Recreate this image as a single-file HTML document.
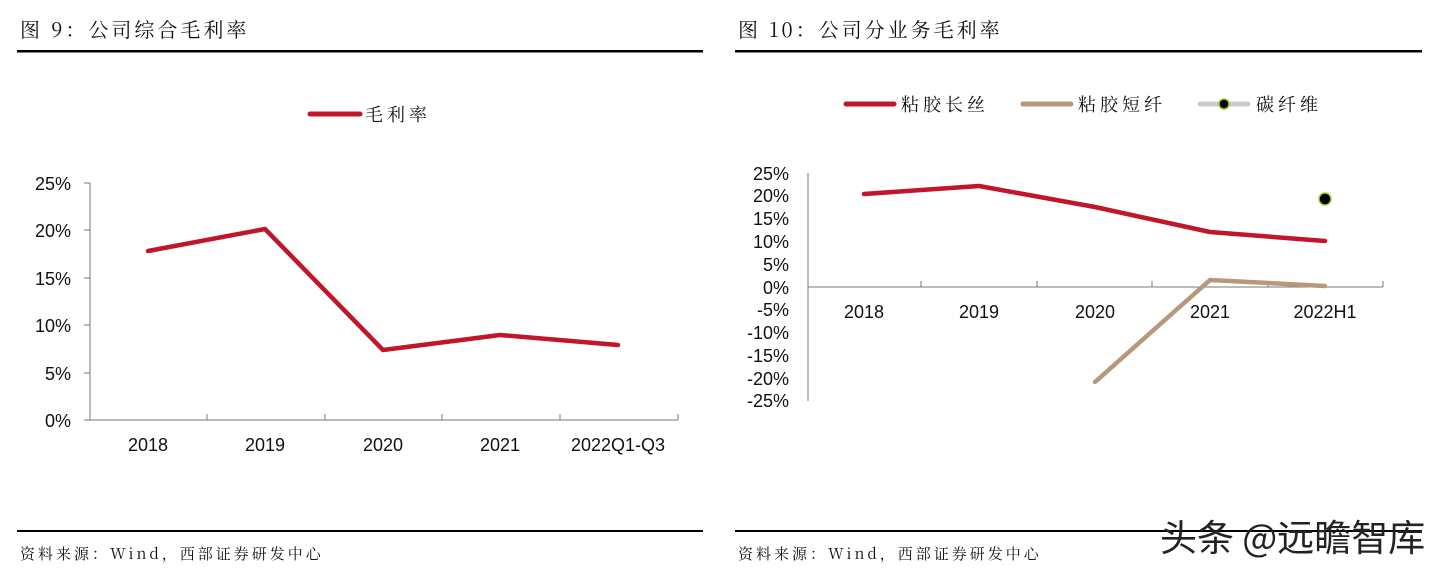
<!DOCTYPE html>
<html><head><meta charset="utf-8"><style>
html,body{margin:0;padding:0;background:#fff;}
.s{font-family:"Liberation Sans","Noto Sans CJK SC",sans-serif;}
.c{font-family:"Noto Serif CJK SC","Liberation Sans",serif;}
</style></head><body>
<svg width="1447" height="575" viewBox="0 0 1447 575" xmlns="http://www.w3.org/2000/svg" class="s">
<text class="c" x="20" y="37" font-size="20" fill="#111" letter-spacing="3">图 9：公司综合毛利率</text>
<text class="c" x="738" y="37" font-size="20" fill="#111" letter-spacing="3">图 10：公司分业务毛利率</text>
<rect x="17" y="50" width="686" height="2.5" fill="#000"/>
<rect x="735" y="50" width="687" height="2.5" fill="#000"/>
<rect x="17" y="530" width="686" height="2" fill="#000"/>
<rect x="735" y="530" width="687" height="2" fill="#000"/>
<text class="c" x="20" y="559" font-size="15" fill="#111" letter-spacing="3">资料来源：Wind，西部证券研发中心</text>
<text class="c" x="738" y="559" font-size="15" fill="#111" letter-spacing="3">资料来源：Wind，西部证券研发中心</text>
<text x="1160" y="551" font-size="37" fill="#222" style="font-family:'Noto Sans CJK SC',sans-serif">头条 @远瞻智库</text>

<line x1="310" y1="114" x2="360" y2="114" stroke="#C0152A" stroke-width="5" stroke-linecap="round"/>
<text class="c" x="365" y="121" font-size="18" fill="#111" letter-spacing="4">毛利率</text>
<g font-size="18" fill="#111" text-anchor="end">
<text x="71" y="190">25%</text><text x="71" y="237">20%</text><text x="71" y="285">15%</text>
<text x="71" y="332">10%</text><text x="71" y="380">5%</text><text x="71" y="427">0%</text>
</g>
<g stroke="#777" stroke-width="1">
<line x1="90" y1="183" x2="90" y2="420"/>
<line x1="90" y1="420" x2="678" y2="420"/>
<line x1="84" y1="183" x2="90" y2="183"/><line x1="84" y1="230" x2="90" y2="230"/><line x1="84" y1="278" x2="90" y2="278"/>
<line x1="84" y1="325" x2="90" y2="325"/><line x1="84" y1="373" x2="90" y2="373"/><line x1="84" y1="420" x2="90" y2="420"/>
<line x1="207" y1="414" x2="207" y2="420"/><line x1="325" y1="414" x2="325" y2="420"/><line x1="442" y1="414" x2="442" y2="420"/>
<line x1="560" y1="414" x2="560" y2="420"/><line x1="678" y1="414" x2="678" y2="420"/>
</g>
<g font-size="18" fill="#111" text-anchor="middle">
<text x="148" y="451">2018</text><text x="265" y="451">2019</text><text x="383" y="451">2020</text><text x="500" y="451">2021</text><text x="618" y="451">2022Q1-Q3</text>
</g>
<polyline points="148,251 265,229 383,350 500,335 618,345" fill="none" stroke="#C0152A" stroke-width="4.5" stroke-linejoin="round" stroke-linecap="round"/>

<line x1="846" y1="104" x2="894" y2="104" stroke="#C0152A" stroke-width="5" stroke-linecap="round"/>
<text class="c" x="901" y="111" font-size="18" fill="#111" letter-spacing="4">粘胶长丝</text>
<line x1="1023" y1="104" x2="1071" y2="104" stroke="#B8987A" stroke-width="5" stroke-linecap="round"/>
<text class="c" x="1078" y="111" font-size="18" fill="#111" letter-spacing="4">粘胶短纤</text>
<line x1="1200" y1="104" x2="1248" y2="104" stroke="#ccc" stroke-width="5" stroke-linecap="round"/>
<circle cx="1224" cy="104" r="5" fill="#000" stroke="#9c3" stroke-width="1.5"/>
<text class="c" x="1256" y="111" font-size="18" fill="#111" letter-spacing="4">碳纤维</text>

<g font-size="18" fill="#111" text-anchor="end">
<text x="789" y="180">25%</text><text x="789" y="202">20%</text><text x="789" y="225">15%</text>
<text x="789" y="248">10%</text><text x="789" y="271">5%</text><text x="789" y="294">0%</text>
<text x="789" y="316">-5%</text><text x="789" y="339">-10%</text><text x="789" y="362">-15%</text>
<text x="789" y="385">-20%</text><text x="789" y="407">-25%</text>
</g>
<g stroke="#777" stroke-width="1">
<line x1="808" y1="173" x2="808" y2="401"/>
<line x1="808" y1="287" x2="1383" y2="287"/>
<line x1="921" y1="281" x2="921" y2="287"/><line x1="1037" y1="281" x2="1037" y2="287"/><line x1="1152" y1="281" x2="1152" y2="287"/>
<line x1="1268" y1="281" x2="1268" y2="287"/><line x1="1383" y1="281" x2="1383" y2="287"/>
</g>
<g font-size="18" fill="#111" text-anchor="middle">
<text x="864" y="318">2018</text><text x="979" y="318">2019</text><text x="1095" y="318">2020</text><text x="1210" y="318">2021</text><text x="1325" y="318">2022H1</text>
</g>
<polyline points="864,194 979,186 1095,207 1210,232 1325,241" fill="none" stroke="#C0152A" stroke-width="4.5" stroke-linejoin="round" stroke-linecap="round"/>
<polyline points="1095,382 1210,280 1325,286" fill="none" stroke="#B8987A" stroke-width="4.5" stroke-linejoin="round" stroke-linecap="round"/>
<circle cx="1325" cy="199" r="6" fill="#000" stroke="#9c3" stroke-width="1.5"/>
</svg>
</body></html>
